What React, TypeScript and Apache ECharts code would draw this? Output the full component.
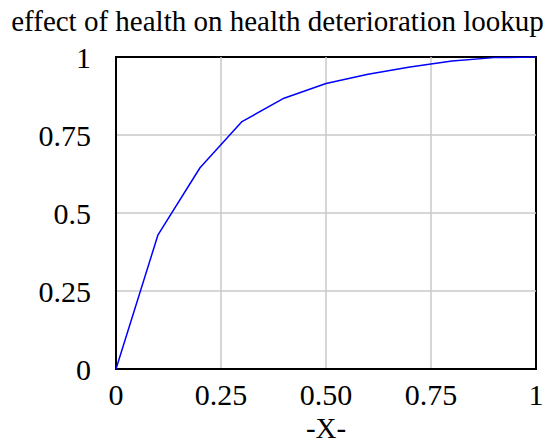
import React, { useEffect, useRef } from "react";
import * as echarts from "echarts";

const titleText = "effect of health on health deterioration lookup";
const xValues = [0, 0.1, 0.2, 0.3, 0.4, 0.5, 0.6, 0.7, 0.8, 0.9, 1];
const yValues = [0, 0.43, 0.645, 0.793, 0.868, 0.915, 0.945, 0.968, 0.987, 0.998, 1];
const xTickLabels: Record<string, string> = { "0": "0", "0.25": "0.25", "0.5": "0.50", "0.75": "0.75", "1": "1" };
const yTickLabels: Record<string, string> = { "0": "0", "0.25": "0.25", "0.5": "0.5", "0.75": "0.75", "1": "1" };
const xAxisName = "-X-";

const FONT = "Liberation Serif";

export default function App() {
  const ref = useRef<HTMLDivElement>(null);
  useEffect(() => {
    if (!ref.current) return;
    const chart = echarts.init(ref.current, undefined, { renderer: "svg" });
    chart.setOption({
      animation: false,
      backgroundColor: "#ffffff",
      textStyle: { fontFamily: FONT },
      title: {
        text: titleText,
        left: "center",
        top: 5,
        padding: [0, 0, 0, 0],
        textStyle: { fontFamily: FONT, fontSize: 29, fontWeight: "normal", color: "#000", lineHeight: 32 },
      },
      grid: {
        left: 116,
        top: 57,
        right: 19,
        bottom: 74,
        containLabel: false,
        outerBoundsMode: "none",
        show: true,
        borderColor: "#000",
        borderWidth: 2,
        backgroundColor: "transparent",
      },
      xAxis: {
        type: "value",
        min: 0,
        max: 1,
        interval: 0.25,
        name: xAxisName,
        nameLocation: "middle",
        nameGap: 44,
        nameTextStyle: { fontFamily: FONT, fontSize: 29, color: "#000" },
        axisLine: { show: true, lineStyle: { color: "#000", width: 2 } },
        axisTick: { show: false },
        splitLine: { show: true, showMinLine: false, showMaxLine: false, lineStyle: { color: "#c8c8c8", width: 1.5 } },
        axisLabel: {
          fontFamily: FONT,
          fontSize: 30,
          color: "#000",
          margin: 10,
          formatter: (v: number) => xTickLabels[String(v)] ?? String(v),
        },
      },
      yAxis: {
        type: "value",
        min: 0,
        max: 1,
        interval: 0.25,
        axisLine: { show: true, lineStyle: { color: "#000", width: 2 } },
        axisTick: { show: false },
        splitLine: { show: true, showMinLine: false, showMaxLine: false, lineStyle: { color: "#c8c8c8", width: 1.5 } },
        axisLabel: {
          fontFamily: FONT,
          fontSize: 30,
          color: "#000",
          margin: 25,
          formatter: (v: number) => yTickLabels[String(v)] ?? String(v),
        },
      },
      series: [
        {
          type: "line",
          data: xValues.map((x, i) => [x, yValues[i]]),
          symbol: "none",
          lineStyle: { color: "#0000ff", width: 1.5 },
        },
      ],
    });
    return () => chart.dispose();
  }, []);
  return <div ref={ref} style={{ width: 555, height: 443, position: "absolute", left: 0, top: 0 }} />;
}
